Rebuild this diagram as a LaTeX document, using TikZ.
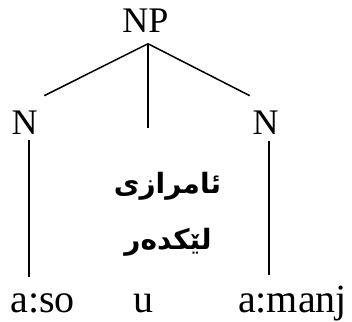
\documentclass[tikz,border=0pt]{standalone}
\usepackage{fontspec}
\setmainfont{Liberation Serif}
\newfontfamily\kurdfont[Script=Arabic]{DejaVu Sans}
\TeXXeTstate=1
\usetikzlibrary{calc}

\begin{document}
\begin{tikzpicture}[x=1pt,y=-1pt,line width=1.5pt,
  word/.style={inner sep=0pt,anchor=base,font=\fontsize{36}{40}\selectfont},
  leaf/.style={word,font=\fontsize{40}{44}\selectfont},
  kurd/.style={inner sep=0pt,font=\kurdfont\bfseries\fontsize{28}{32}\selectfont}]
\useasboundingbox (0,0) rectangle (352,321);

% Nodes
\node[word] (np) at (145.5,33) {NP};
\node[word] (nl) at (24.5,134) {N};
\node[word] (nr) at (265.5,134) {N};
\node[leaf] (aso) at (42.5,312) {a:so};
\node[leaf] (u) at (143,312) {u};
\node[leaf] (amanj) at (292.5,312) {a:manj};
\node[kurd] (k1) at (167.5,186) {\beginR ئامرازی\endR};
\node[kurd] (k2) at (168,242) {\beginR لێكدەر\endR};

% Branches
\coordinate (root) at ($(np.south)+(2.5,10)$);
\coordinate (mid) at (148,128);
\draw (root) -- ($(nl.north east)+(6,-14)$);
\draw (root) -- (mid);
\draw (root) -- ($(nr.north west)+(-2,-14)$);

% Leaves
\draw ($(nl.south)+(4.5,5)$) -- ($(aso.base)+(-13.5,-35)$);
\draw ($(nr.south)+(3.5,6)$) -- ($(amanj.base)+(-23.5,-37)$);
\end{tikzpicture}
\end{document}
